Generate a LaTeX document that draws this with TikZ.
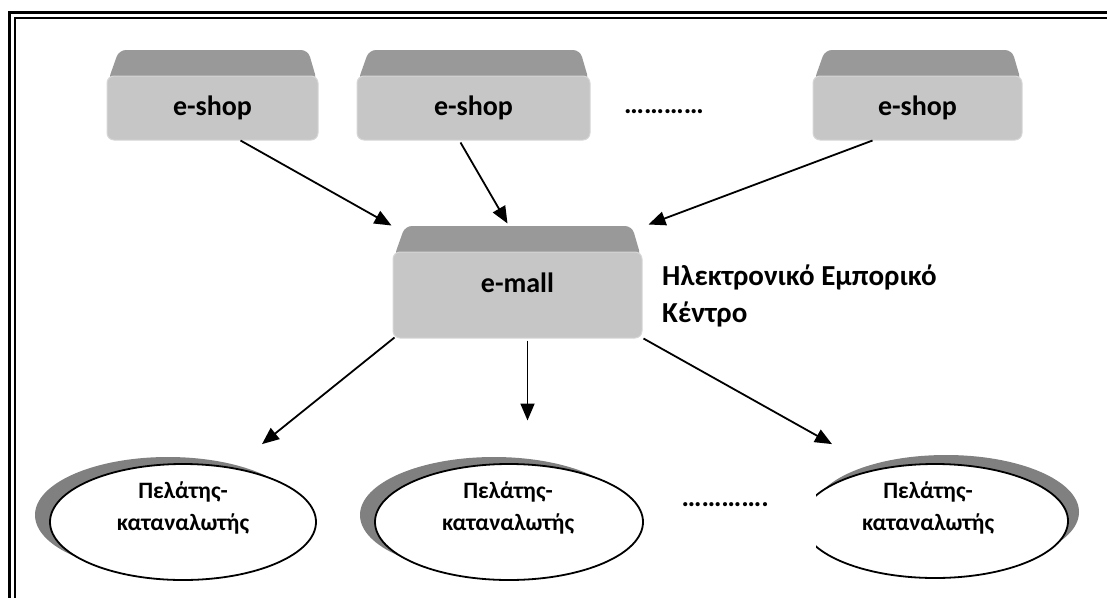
\documentclass[tikz,border=0pt]{standalone}
\usepackage{fontspec}
\setmainfont{Carlito}
\usetikzlibrary{arrows.meta,shapes.geometric,calc}

\definecolor{facegray}{HTML}{C6C6C6}
\definecolor{rimgray}{HTML}{D6D6D6}
\definecolor{topgray}{HTML}{999999}
\definecolor{shadegray}{HTML}{808080}

\tikzset{
  frontface/.style={rectangle, rounded corners=7pt, fill=facegray, draw=rimgray,
    line width=1pt, inner sep=0pt, font=\bfseries\fontsize{28}{34}\selectfont},
  boxtext/.style={font=\bfseries\fontsize{28}{34}\selectfont, inner sep=0pt},
  client/.style={ellipse, draw=black, line width=1.8pt, fill=white, inner sep=0pt},
  clienttext/.style={font=\bfseries\fontsize{23.5}{32}\selectfont, align=center,
    anchor=base, inner sep=0pt},
  link/.style={line width=1.8pt, -{Triangle[length=17pt,width=14pt]}},
}

% bevelled box: name, left, right, top of lid, top of front face, bottom, text
\newcommand\bevelbox[7]{%
  \fill[topgray, rounded corners=7pt]
    (#2+1,#5+5) -- (#2+12,#4) -- (#3-10,#4) -- (#3-1,#5+5) -- cycle;
  \node[frontface, minimum width={#3-#2}, minimum height={#6-#5}]
    (#1) at ({(#2+#3)/2},{(#5+#6)/2}) {#7};
}

\begin{document}
\begin{tikzpicture}[x=1pt,y=-1pt]
\useasboundingbox (0,0) rectangle (1107,597);
\clip (0,0) rectangle (1107,597);

% double frame
\draw[line width=3pt] (9.5,700) -- (9.5,12.5) -- (1200,12.5);
\draw[line width=2pt] (14.5,700) -- (14.5,17.5) -- (1200,17.5);

% shops
\bevelbox{shop1}{107}{318}{50}{76}{140}{e-shop}
\bevelbox{shop2}{357}{590}{50}{76}{140}{e-shop}
\bevelbox{shop3}{813}{1022}{50}{76}{140}{e-shop}
\node[boxtext, anchor=base east] (dotsA) at (704,113) {…………};

% mall
\bevelbox{mall}{393}{642}{226}{252}{338}{}
\node[boxtext] (malltext) at ($(mall)+(0,-12)$) {e-mall};
\node[anchor=base west, align=left, inner sep=0pt,
      font=\bfseries\fontsize{29}{37}\selectfont] (mallname) at (662,322)
  {Ηλεκτρονικό Εμπορικό\\Κέντρο};

% clients with their shaded rims
\fill[shadegray] (168,515) ellipse [x radius=133, y radius=58];
\node[client, minimum width=266pt, minimum height=116pt] (c1) at (183,522) {};
\fill[shadegray] (494,515) ellipse [x radius=134, y radius=58];
\node[client, minimum width=268pt, minimum height=116pt] (c2) at (509,522) {};
\fill[shadegray] (946,512) ellipse [x radius=133, y radius=57];
\node[client, minimum width=266pt, minimum height=114pt] (c3) at (935,521) {};

\node[clienttext] (t1) at ($(c1)+(0,8)$) {Πελάτης-\\καταναλωτής};
\node[clienttext] (t2) at ($(c2)+(-1,8)$) {Πελάτης-\\καταναλωτής};
\node[clienttext] (t3) at ($(c3)+(-7,9)$) {Πελάτης-\\καταναλωτής};

% text box of the lower dots (white background)
\fill[white] (648,470) rectangle (816,560);
\node[boxtext, anchor=base east] (dotsB) at (769,506) {………….};

% connectors
\draw[link] ($(shop1.south)+(28,0)$) -- ($(mall.north west)+(-1,-26)$);
\draw[link] ($(shop2.south)+(-13,2)$) -- ($(mall.north)+(-10,-28)$);
\draw[link] ($(shop3.south)+(-45,0)$) -- ($(mall.north east)+(6,-27)$);
\draw[link] ($(mall.south west)+(2,-1)$) -- ($(c1.north)+(79,-19)$);
\draw[link] ($(mall.south)+(10,2)$) -- ($(mall.south)+(10,82)$);
\draw[link] ($(mall.south east)+(1,0)$) -- ($(c3.north)+(-103,-19)$);
\end{tikzpicture}
\end{document}
